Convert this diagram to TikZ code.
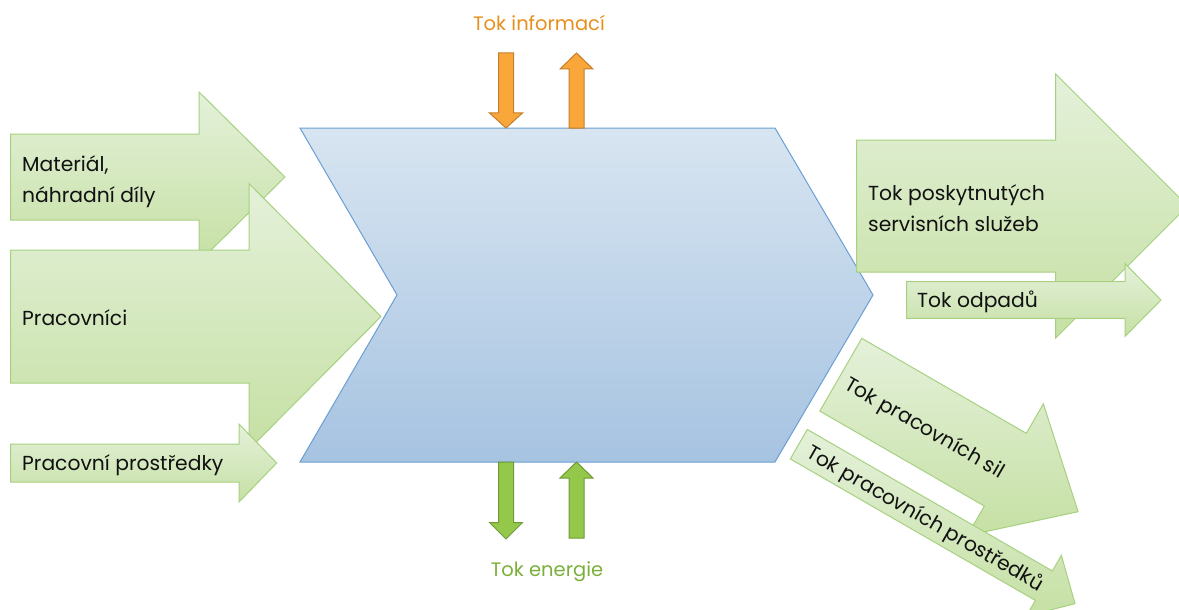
\documentclass[tikz,border=0pt]{standalone}
\usepackage{fontspec}
\setmainfont{Poppins}
\definecolor{gtop}{HTML}{E4F1DA}
\definecolor{gbot}{HTML}{C6E0A4}
\definecolor{gline}{HTML}{A6D180}
\definecolor{btop}{HTML}{D8E5F1}
\definecolor{bbot}{HTML}{A6C3E1}
\definecolor{bline}{HTML}{6A9FD4}
\definecolor{ofill}{HTML}{F9A63B}
\definecolor{oline}{HTML}{C47F2A}
\definecolor{otext}{HTML}{E88E1C}
\definecolor{efill}{HTML}{93C84A}
\definecolor{eline}{HTML}{6E9B36}
\definecolor{etext}{HTML}{7AB03A}
\definecolor{ink}{HTML}{111111}
\begin{document}
\begin{tikzpicture}[x=1pt,y=-1pt,
  pics/flow/.style n args={5}{code={
    \path[#5] (0,-#1) -- (#2,-#1) -- (#2,-#3) -- ({#2+#4},0) -- (#2,#3) -- (#2,#1) -- (0,#1) -- cycle;
  }},
  greenflow/.style={draw=gline, line width=1pt, top color=gtop, bottom color=gbot, line join=miter},
  infoflow/.style={draw=oline, line width=1pt, fill=ofill},
  energyflow/.style={draw=eline, line width=1pt, fill=efill},
  lbl/.style={font=\fontsize{20.3}{24}\selectfont, text=ink, inner sep=0pt, anchor=base west},
  ttl/.style={font=\fontsize{19.5}{22}\selectfont, inner sep=0pt, anchor=base},
]
\path[use as bounding box] (0,0) rectangle (1179,610);
\clip (0,0) rectangle (1179,610);

% central process chevron
\shade[draw=bline, line width=1pt, top color=btop, bottom color=bbot]
  (300,128) -- (775,128) -- (873,295) -- (775,462) -- (300,462) -- (397,295) -- cycle;
\coordinate (proc) at (586,295);

% input arrows
\pic (inMat) at (10.7,177) {flow={43}{188.3}{85}{86}{greenflow}};
\pic (inPrac) at (10.7,316.5) {flow={66.5}{238.3}{133}{132}{greenflow}};
\pic (inProst) at (10.7,463) {flow={19}{228.3}{39}{37.7}{greenflow}};
\node[lbl] (tMat1) at (22,171) {Materiál,};
\node[lbl] (tMat2) at (22,202) {náhradní díly};
\node[lbl] (tPrac) at (22,325) {Pracovníci};
\node[lbl] (tProst) at (22,470) {Pracovní prostředky};

% output arrows
\pic (outSluz) at (856.7,206) {flow={66}{199}{132}{132}{greenflow}};
\pic (outOdp) at (906.7,300) {flow={18.3}{218.3}{36.4}{36}{greenflow}};
\pic[rotate=-30] (outSil) at (840.8,374.7) {flow={42}{190}{76}{84}{greenflow}};
\pic[rotate=-30] (outProst) at (798.8,444.2) {flow={17}{283}{35}{36}{greenflow}};
\node[lbl] (tSluz1) at (868,200) {Tok poskytnutých};
\node[lbl] (tSluz2) at (868,231) {servisních služeb};
\node[lbl] (tOdp) at (917,307) {Tok odpadů};
\node[lbl, rotate=-30] (tSil) at (843,388) {Tok pracovních sil};
\node[lbl, rotate=-30] (tProstOut) at (805,456.5) {Tok pracovních prostředků};

% information flow
\pic[rotate=-90] (infoIn) at (506,53) {flow={7.5}{60}{16.5}{15}{infoflow}};
\pic[rotate=90] (infoOut) at (576.5,128) {flow={7.5}{59}{16.5}{16}{infoflow}};
\node[ttl, text=otext] (tInfo) at (539,31) {Tok informací};

% energy flow
\pic[rotate=-90] (enIn) at (506,462) {flow={7.5}{60.5}{16.5}{16.5}{energyflow}};
\pic[rotate=90] (enOut) at (576.5,538) {flow={7.5}{60}{16.5}{16}{energyflow}};
\node[ttl, text=etext] (tEn) at (547,576) {Tok energie};
\end{tikzpicture}
\end{document}
